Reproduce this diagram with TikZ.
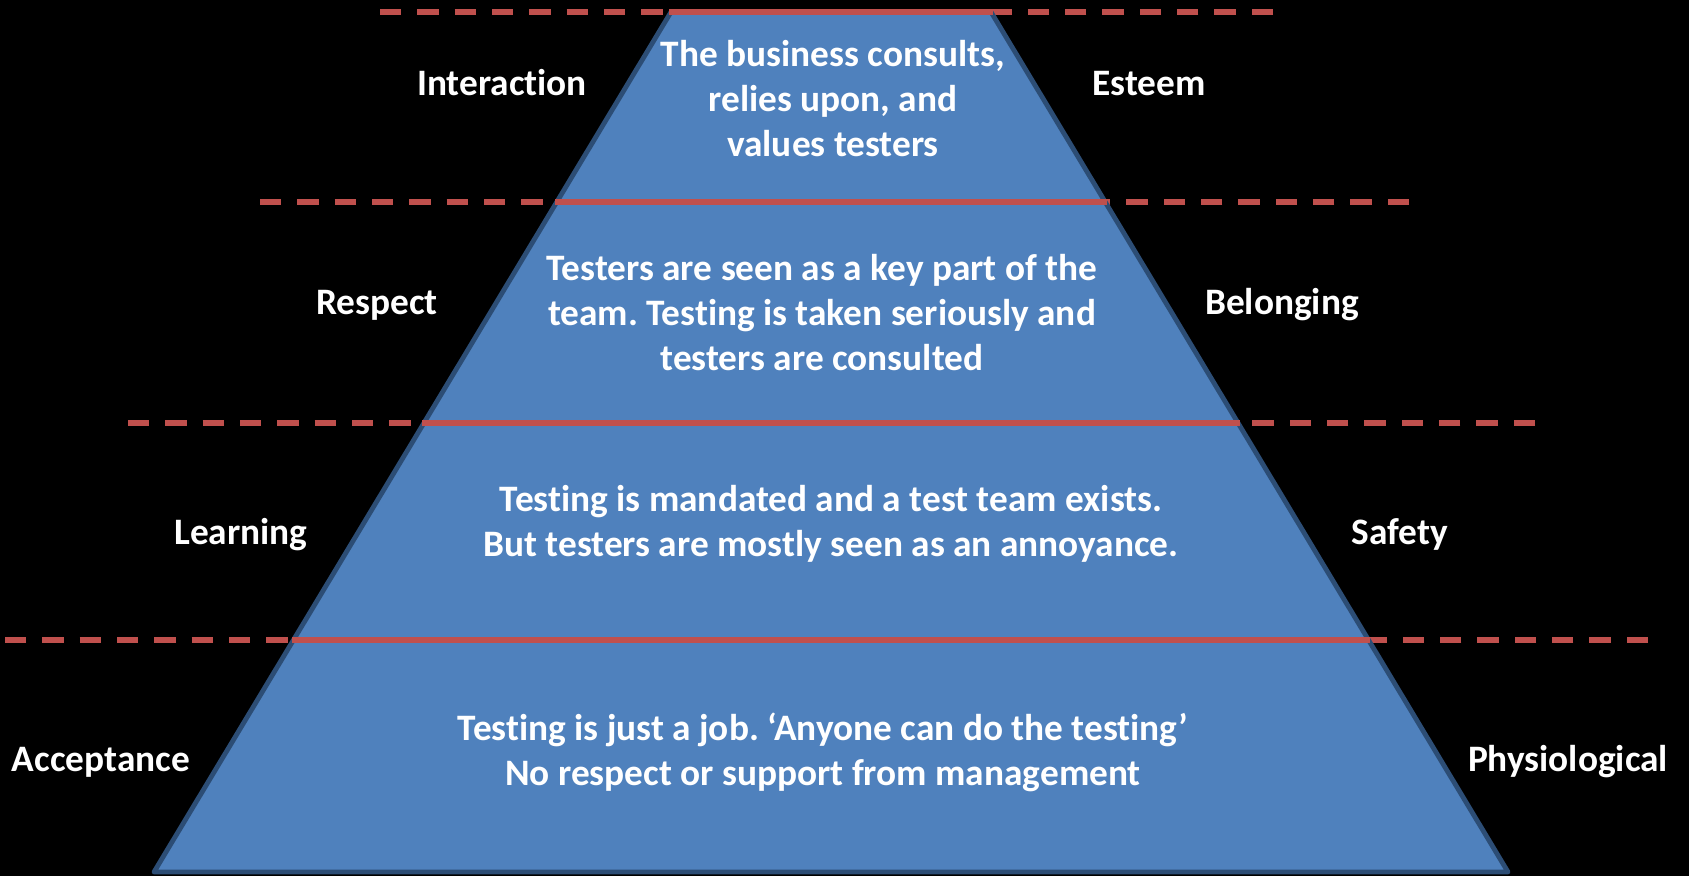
\documentclass[tikz,border=0pt]{standalone}
\usepackage{fontspec}
\setmainfont{Carlito}[Ligatures=NoCommon]
\definecolor{pyrblue}{HTML}{4F81BD}
\definecolor{pyredge}{HTML}{2C4D75}
\definecolor{bandred}{HTML}{C0504D}
\begin{document}
\frenchspacing
\begin{tikzpicture}[x=0.75pt,y=0.75pt,yscale=-1,xscale=1,
  bandline/.style={draw=bandred,line width=3.8pt},
  banddash/.style={bandline,dash pattern={on 16pt off 12pt}},
  sidelabel/.style={text=white,inner sep=0.75pt,anchor=base,font=\bfseries\fontsize{28}{33.75}\selectfont},
  leveltext/.style={text=white,inner sep=0.75pt,align=center,font=\bfseries\fontsize{28}{33.75}\selectfont}]
				%Background
				\fill[black] (0,0) rectangle (1689,876);
				\useasboundingbox (0,0) rectangle (1689,876);

				%Dashed Lines (each half starts from its outer end)
				\draw [banddash]  (380,12) -- (833,12) ;
				\draw [banddash]  (1273,12) -- (833,12) ;
				\draw [banddash]  (260,202) -- (833,202) ;
				\draw [banddash]  (1409,202) -- (833,202) ;
				\draw [banddash]  (128,423) -- (833,423) ;
				\draw [banddash]  (1535,423) -- (833,423) ;
				\draw [banddash]  (5,640) -- (833,640) ;
				\draw [banddash]  (1648,640) -- (833,640) ;

				%Shape: Pyramid
				\draw [fill=pyrblue,draw=pyredge,line width=3.6pt,line join=round]  (671,12) -- (991,12) -- (1508,872) -- (154,872) -- cycle ;

				%Straight Lines
				\draw [bandline]  (669,12) -- (993,12) ;
				\draw [bandline]  (555,202) -- (1107,202) ;
				\draw [bandline]  (422,423) -- (1240,423) ;
				\draw [bandline]  (292,640) -- (1370,640) ;

				% Text Node
				\node [sidelabel] (interaction) at (502,95) {Interaction};
				% Text Node
				\node [sidelabel] (esteem) at (1149,95) {Esteem};
				% Text Node
				\node [sidelabel] (respect) at (377,314) {Respect};
				% Text Node
				\node [sidelabel] (belonging) at (1282,314) {Belonging};
				% Text Node
				\node [sidelabel] (learning) at (241,544) {Learning};
				% Text Node
				\node [sidelabel] (safety) at (1400,544) {Safety};
				% Text Node
				\node [sidelabel] (acceptance) at (101,771) {Acceptance};
				% Text Node
				\node [sidelabel] (physio) at (1568,771) {Physiological};

				% Text Node
				\node [leveltext] (esteemtext) at (833,99) {The business consults,\\relies upon, and\\values testers};
				% Text Node
				\node [leveltext] (belongtext) at (822,313) {Testers are seen as a key part of the\\team. Testing is taken seriously and\\testers are consulted};
				% Text Node
				\node [leveltext] (safetytext) at (831,524) {Testing is mandated and a test team exists.\\But testers are mostly seen as an annoyance.};
				% Text Node
				\node [leveltext] (physiotext) at (823,752) {Testing is just a job. ‘Anyone can do the testing’\\No respect or support from management};

\end{tikzpicture}
\end{document}
